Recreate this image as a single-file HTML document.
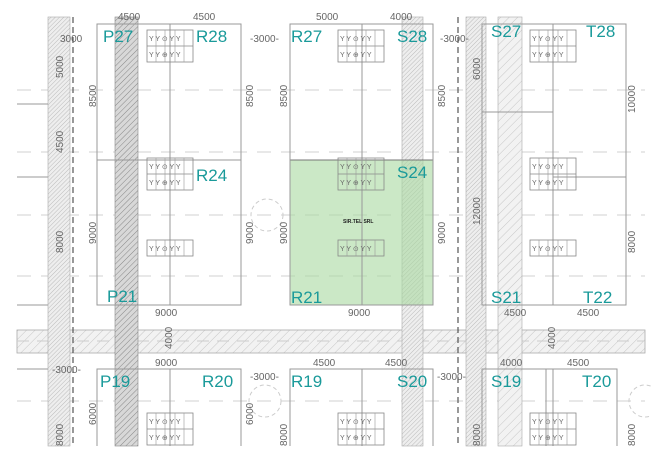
<!DOCTYPE html>
<html><head><style>
html,body{margin:0;padding:0;background:#fff;}
svg{display:block;}
.d{font-family:"Liberation Sans",sans-serif;font-size:10px;fill:#666;}
.l{font-family:"Liberation Sans",sans-serif;font-size:17px;fill:#1a9a9a;}
</style></head><body>
<svg width="651" height="459" viewBox="0 0 651 459" xmlns="http://www.w3.org/2000/svg">
<defs>
<pattern id="h1" width="3" height="3" patternUnits="userSpaceOnUse" patternTransform="rotate(45)"><rect width="3" height="3" fill="#eee"/><line x1="0" y1="0" x2="0" y2="3" stroke="#bbb" stroke-width="1"/></pattern>
<pattern id="h2" width="4" height="4" patternUnits="userSpaceOnUse" patternTransform="rotate(45)"><rect width="4" height="4" fill="#d8d8d8"/><line x1="0" y1="0" x2="0" y2="4" stroke="#888" stroke-width="1"/></pattern>
<pattern id="h3" width="6" height="6" patternUnits="userSpaceOnUse" patternTransform="rotate(45)"><rect width="6" height="6" fill="#f2f2f2"/><line x1="0" y1="0" x2="0" y2="6" stroke="#bbb" stroke-width="0.8"/></pattern>
<g id="fx"><rect x="0" y="0" width="46" height="32" fill="none" stroke="#888" stroke-width="0.8"/><line x1="0" y1="16" x2="46" y2="16" stroke="#888" stroke-width="0.8"/><line x1="9" y1="0" x2="9" y2="32" stroke="#999" stroke-width="0.6"/><line x1="18" y1="0" x2="18" y2="32" stroke="#999" stroke-width="0.6"/><line x1="28" y1="0" x2="28" y2="32" stroke="#999" stroke-width="0.6"/><line x1="37" y1="0" x2="37" y2="32" stroke="#999" stroke-width="0.6"/><text x="2" y="11" class="d" style="font-size:7px">Y Y ⊙ Y Y</text><text x="2" y="27" class="d" style="font-size:7px">Y Y ⊕ Y Y</text></g>
<g id="fx1"><rect x="0" y="0" width="46" height="16" fill="none" stroke="#888" stroke-width="0.8"/><line x1="9" y1="0" x2="9" y2="16" stroke="#999" stroke-width="0.6"/><line x1="18" y1="0" x2="18" y2="16" stroke="#999" stroke-width="0.6"/><line x1="28" y1="0" x2="28" y2="16" stroke="#999" stroke-width="0.6"/><line x1="37" y1="0" x2="37" y2="16" stroke="#999" stroke-width="0.6"/><text x="2" y="11" class="d" style="font-size:7px">Y Y ⊙ Y Y</text></g>
</defs>
<rect width="651" height="459" fill="#fff"/>
<g stroke="#c4c4c4" stroke-width="0.8" stroke-dasharray="14,10">
<line x1="17" y1="90" x2="645" y2="90"/><line x1="17" y1="152" x2="645" y2="152"/><line x1="17" y1="215" x2="645" y2="215"/><line x1="17" y1="276" x2="645" y2="276"/><line x1="17" y1="401" x2="645" y2="401"/>
</g>
<rect x="17" y="330" width="628" height="23" fill="url(#h3)" stroke="#aaa" stroke-width="0.8"/>
<line x1="17" y1="341" x2="645" y2="341" stroke="#ccc" stroke-dasharray="12,8"/>
<rect x="48" y="17" width="22" height="429" fill="url(#h1)" stroke="#aaa" stroke-width="0.6"/>
<rect x="115" y="17" width="23" height="429" fill="url(#h2)" stroke="#888" stroke-width="0.6"/>
<rect x="402" y="17" width="21" height="429" fill="url(#h1)" stroke="#aaa" stroke-width="0.6"/>
<rect x="466" y="17" width="20" height="429" fill="url(#h1)" stroke="#aaa" stroke-width="0.6"/>
<rect x="498" y="17" width="24" height="429" fill="url(#h3)" stroke="#aaa" stroke-width="0.6"/>
<g stroke="#555" stroke-width="1.2" stroke-dasharray="6,4"><line x1="73" y1="17" x2="73" y2="446"/><line x1="458" y1="17" x2="458" y2="446"/></g>
<rect x="290" y="160" width="143" height="145" fill="#a8d8a0" fill-opacity="0.6" stroke="#777"/>
<g fill="none" stroke="#999" stroke-width="1">
<rect x="97" y="24" width="144" height="281"/><line x1="97" y1="160" x2="241" y2="160"/>
<rect x="290" y="24" width="143" height="281"/>
<rect x="482" y="24" width="144" height="281"/><line x1="482" y1="112" x2="553" y2="112"/><line x1="553" y1="177" x2="626" y2="177"/>
<path d="M97 446V369H241V446"/>
<path d="M290 446V369H433V446"/>
<path d="M482 446V369H617V446"/><line x1="546" y1="369" x2="546" y2="446"/>
<line x1="17" y1="305" x2="48" y2="305"/><line x1="17" y1="369" x2="48" y2="369"/><line x1="17" y1="104" x2="48" y2="104"/><line x1="17" y1="177" x2="48" y2="177"/>
<line x1="170" y1="24" x2="170" y2="305"/><line x1="362" y1="24" x2="362" y2="305"/><line x1="553" y1="24" x2="553" y2="305"/>
<line x1="170" y1="369" x2="170" y2="446"/><line x1="362" y1="369" x2="362" y2="446"/><line x1="553" y1="369" x2="553" y2="446"/>
</g>
<g stroke="#ccc" fill="none"><circle cx="267" cy="215" r="16" stroke-dasharray="4,3"/><circle cx="265" cy="401" r="16" stroke-dasharray="4,3"/><circle cx="645" cy="401" r="16" stroke-dasharray="4,3"/></g>
<use href="#fx" x="147" y="30"/><use href="#fx" x="147" y="158"/><use href="#fx1" x="147" y="240"/>
<use href="#fx" x="338" y="30"/><use href="#fx" x="338" y="158"/><use href="#fx1" x="338" y="240"/>
<use href="#fx" x="530" y="30"/><use href="#fx" x="530" y="158"/><use href="#fx1" x="530" y="240"/>
<use href="#fx" x="147" y="413"/><use href="#fx" x="338" y="413"/><use href="#fx" x="530" y="413"/>
<text x="343" y="223" style="font-family:'Liberation Sans',sans-serif;font-size:5px;font-weight:bold" fill="#222">SIR.TEL SRL</text>
<g class="d">
<text x="60" y="42">3000</text><text x="250" y="42">-3000-</text><text x="440" y="42">-3000-</text>
<text x="118" y="20">4500</text><text x="193" y="20">4500</text><text x="316" y="20">5000</text><text x="390" y="20">4000</text>
<text x="155" y="316">9000</text><text x="348" y="316">9000</text><text x="504" y="316">4500</text><text x="577" y="316">4500</text>
<text x="155" y="366">9000</text><text x="313" y="366">4500</text><text x="385" y="366">4500</text><text x="500" y="366">4000</text><text x="567" y="366">4500</text>
<text x="52" y="373">-3000-</text><text x="250" y="380">-3000-</text><text x="437" y="380">-3000-</text>
<text transform="translate(63,78) rotate(-90)">5000</text><text transform="translate(63,153) rotate(-90)">4500</text><text transform="translate(63,253) rotate(-90)">8000</text>
<text transform="translate(96,107) rotate(-90)">8500</text><text transform="translate(253,107) rotate(-90)">8500</text><text transform="translate(287,107) rotate(-90)">8500</text><text transform="translate(445,107) rotate(-90)">8500</text>
<text transform="translate(96,244) rotate(-90)">9000</text><text transform="translate(253,244) rotate(-90)">9000</text><text transform="translate(287,244) rotate(-90)">9000</text><text transform="translate(445,244) rotate(-90)">9000</text>
<text transform="translate(480,80) rotate(-90)">6000</text><text transform="translate(480,225) rotate(-90)">12000</text><text transform="translate(635,113) rotate(-90)">10000</text><text transform="translate(635,253) rotate(-90)">8000</text>
<text transform="translate(172,349) rotate(-90)">4000</text><text transform="translate(555,349) rotate(-90)">4000</text>
<text transform="translate(96,425) rotate(-90)">6000</text><text transform="translate(253,425) rotate(-90)">6000</text>
<text transform="translate(63,446) rotate(-90)">8000</text><text transform="translate(287,446) rotate(-90)">8000</text><text transform="translate(480,446) rotate(-90)">8000</text><text transform="translate(635,446) rotate(-90)">8000</text>
</g>
<g class="l">
<text x="103" y="42">P27</text><text x="196" y="42">R28</text><text x="291" y="42">R27</text><text x="397" y="42">S28</text><text x="491" y="37">S27</text><text x="586" y="37">T28</text>
<text x="196" y="181">R24</text><text x="397" y="178">S24</text>
<text x="107" y="302">P21</text><text x="291" y="303">R21</text><text x="491" y="303">S21</text><text x="583" y="303">T22</text>
<text x="100" y="387">P19</text><text x="202" y="387">R20</text><text x="291" y="387">R19</text><text x="397" y="387">S20</text><text x="491" y="387">S19</text><text x="582" y="387">T20</text>
</g>
</svg>
</body></html>
